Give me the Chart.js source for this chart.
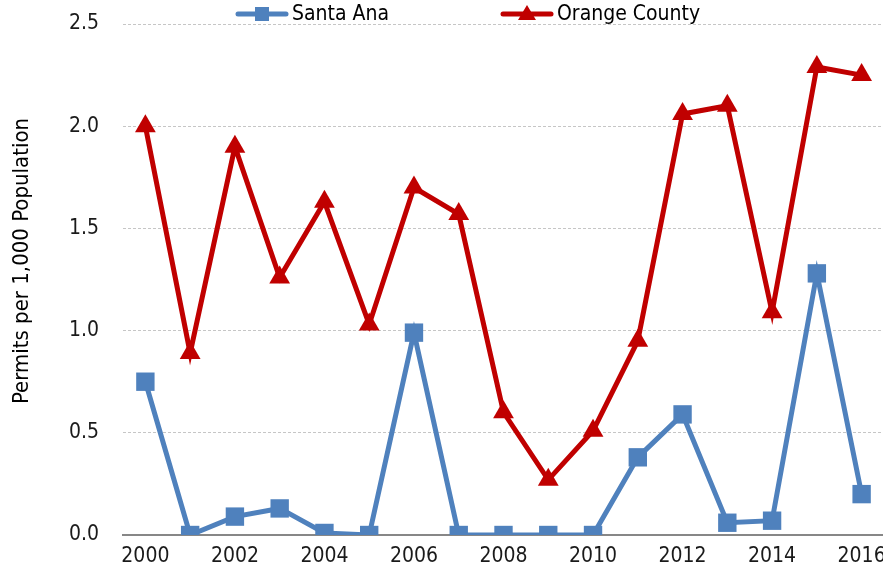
<!DOCTYPE html>
<html>
<head>
<meta charset="utf-8">
<script src="https://cdn.jsdelivr.net/npm/chart.js@4"></script>
<style>
  html, body { margin: 0; padding: 0; background: #fff; overflow: hidden; width: 883px; height: 581px; }
  /* a bit wider than the page: Chart.js keeps a right margin for the last label */
  #wrap { width: 897px; height: 581px; position: relative; }
  canvas { display: block; }
</style>
</head>
<body>
<div id="wrap"><canvas id="chart"></canvas></div>
<script>
// Years on the x axis
const years = ['2000', '2001', '2002', '2003', '2004', '2005', '2006', '2007', '2008',
  '2009', '2010', '2011', '2012', '2013', '2014', '2015', '2016'];

// Permits per 1,000 population
const santaAna = [0.75, 0, 0.09, 0.13, 0.01, 0, 0.99, 0, 0, 0, 0, 0.38, 0.59, 0.06, 0.07, 1.28, 0.2];
const orangeCounty = [2.0, 0.89, 1.9, 1.26, 1.63, 1.03, 1.7, 1.57, 0.6, 0.27, 0.51, 0.95, 2.06, 2.1, 1.09, 2.29, 2.25];

const seriesNames = ['Santa Ana', 'Orange County'];
const yTitle = 'Permits per 1,000 Population';

const blue = '#4f81bd';
const red = '#c00000';
const font = "'DejaVu Sans Condensed', 'Liberation Sans Narrow', sans-serif";

// Legend with line + marker, drawn like the spreadsheet legend
const legendPlugin = {
  id: 'lineLegend',
  afterDraw(chart) {
    const ctx = chart.ctx;
    const items = [
      { x: 236, color: blue, marker: 'square', text: seriesNames[0] },
      { x: 501, color: red, marker: 'triangle', text: seriesNames[1] },
    ];
    const y = 14;
    ctx.save();
    items.forEach((it) => {
      ctx.strokeStyle = it.color;
      ctx.lineWidth = 5;
      ctx.lineCap = 'round';
      ctx.beginPath();
      ctx.moveTo(it.x + 2, y);
      ctx.lineTo(it.x + 50, y);
      ctx.stroke();
      ctx.fillStyle = it.color;
      const cx = it.x + 26;
      if (it.marker === 'square') {
        ctx.fillRect(cx - 7, y - 7, 14, 14);
      } else {
        ctx.beginPath();
        ctx.moveTo(cx, y - 9);
        ctx.lineTo(cx + 9, y + 6);
        ctx.lineTo(cx - 9, y + 6);
        ctx.closePath();
        ctx.fill();
      }
      ctx.fillStyle = '#000';
      ctx.font = '21px ' + font;
      ctx.textBaseline = 'middle';
      ctx.textAlign = 'left';
      ctx.fillText(it.text, it.x + 56, y + 1);
    });

    // Y axis title
    ctx.translate(22, 261);
    ctx.rotate(-Math.PI / 2);
    ctx.fillStyle = '#000';
    ctx.font = '22px ' + font;
    ctx.textAlign = 'center';
    ctx.textBaseline = 'middle';
    ctx.fillText(yTitle, 0, 0);
    ctx.restore();
  },
};

new Chart(document.getElementById('chart'), {
  type: 'line',
  data: {
    labels: years,
    datasets: [
      {
        label: seriesNames[0],
        data: santaAna,
        borderColor: blue,
        backgroundColor: blue,
        borderWidth: 5,
        pointStyle: 'rect',
        pointRadius: 13,
        pointHoverRadius: 13,
        pointBorderWidth: 0,
        tension: 0,
      },
      {
        label: seriesNames[1],
        data: orangeCounty,
        borderColor: red,
        backgroundColor: red,
        borderWidth: 5,
        pointStyle: 'triangle',
        pointRadius: 12,
        pointHoverRadius: 12,
        pointBorderWidth: 0,
        tension: 0,
      },
    ],
  },
  options: {
    responsive: true,
    maintainAspectRatio: false,
    animation: false,
    layout: { padding: { top: 24, right: 0, left: 0, bottom: 0 } },
    plugins: {
      legend: { display: false },
      tooltip: { enabled: false },
    },
    scales: {
      x: {
        offset: true,
        grid: { display: false, drawTicks: false },
        border: { color: '#878787', width: 2 },
        ticks: {
          autoSkip: false,
          maxRotation: 0,
          padding: 9,
          color: '#1a1a1a',
          font: { family: font, size: 21 },
          callback: function (value, index) {
            return index % 2 === 0 ? this.getLabelForValue(value) : '';
          },
        },
        afterFit(scale) {
          scale.height = 46;
        },
      },
      y: {
        min: 0,
        max: 2.5,
        grid: {
          color: '#c6c6c6',
          lineWidth: 1,
          drawTicks: false,
        },
        border: { display: false, dash: [3, 2] },
        ticks: {
          stepSize: 0.5,
          padding: 24,
          color: '#1a1a1a',
          font: { family: font, size: 21 },
          callback: (v) => v.toFixed(1),
        },
        afterFit(scale) {
          scale.width = 123;
          scale.paddingTop = 0;
          scale.paddingBottom = 0;
        },
      },
    },
  },
  plugins: [legendPlugin],
});
</script>
</body>
</html>
